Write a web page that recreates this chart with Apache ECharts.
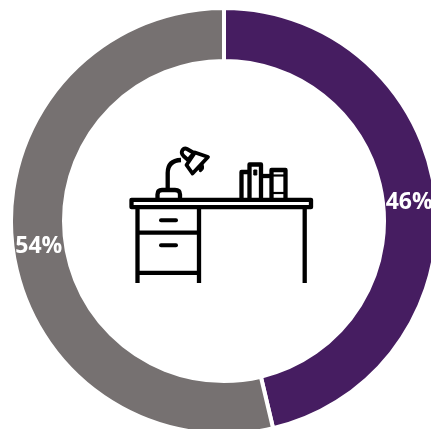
<!DOCTYPE html>
<html><head><meta charset="utf-8">
<style>html,body{margin:0;padding:0;background:#fff}#c{width:431px;height:429px}</style>
<script src="https://cdn.jsdelivr.net/npm/echarts@6/dist/echarts.min.js"></script>
</head><body><div id="c"></div>
<script>
const categories = ['A', 'B'];
const values = [46.3, 53.7];
const labels = ['46%', '54%'];
const colors = ['#461D61', '#767171'];
const k = '#000';
let shapeId = 0;
const shapeOf = d => { const n = 'iconShape' + (shapeId++); echarts.graphic.registerShape(n, echarts.graphic.extendPath(d)); return n; };
const line = (d, w, cap) => ({type:shapeOf(d), style:{fill:'none', stroke:k, lineWidth:w||4.3, lineCap:cap||'butt', lineJoin:'round'}, silent:true, z:10});
const solid = d => ({type:shapeOf(d), style:{fill:k, stroke:k, lineWidth:1}, silent:true, z:10});
const icon = [
  line('M131.5 199.8H311V207.2H131.5Z'),
  line('M137.5 207V283'), line('M199 207V283'), line('M304.7 207V283'),
  line('M137.5 232.7H199'), line('M137.5 272.8H199'),
  line('M161 220.3H176',4,'round'),
  line('M161 245.3H176',4,'round'),
  line('M157.5 199V194.5Q157.5 190 162 190H175Q180 190 180 194.5V199'),
  line('M167.7 190V173Q167.7 160.5 181 160'),
  line('M187 149Q184.5 147.5 182.5 150Q180.5 153 183.5 156L188 160L194 153Z',3.8),
  line('M195 152.5L208 157L192.5 173.5L186.5 165Z',3.8),
  solid('M198.5 169L203 164.5Q205 170 200 172Z'),
  line('M241.5 198V172H249'),
  line('M249.5 198V164.5H261V198'),
  solid('M253.8 170H256.8V175H253.8Z'),
  line('M261 176H271'),
  line('M271.5 198V170H285.5V198'),
  line('M271.5 175.5H285.5',2.2), line('M271.5 193H285.5',2.2)
];
const offsets = [[-3,3],[3,3]];
const chart = echarts.init(document.getElementById('c'), null, {renderer:'canvas'});
chart.setOption({
  backgroundColor:'#fff',
  animation:false,
  series:[{
    type:'pie',
    center:[224,221],
    radius:[160,213],
    startAngle:90,
    clockwise:true,
    data:categories.map((c,i)=>({name:c,value:values[i],
      label:{formatter:labels[i],offset:offsets[i]},
      itemStyle:{color:colors[i]}})),
    itemStyle:{borderColor:'#fff',borderWidth:4},
    label:{position:'inside',color:'#fff',fontFamily:'"Open Sans"',fontWeight:700,fontSize:23},
    labelLine:{show:false},
    emphasis:{disabled:true},
    silent:true
  }],
  graphic:icon
});
</script></body></html>
